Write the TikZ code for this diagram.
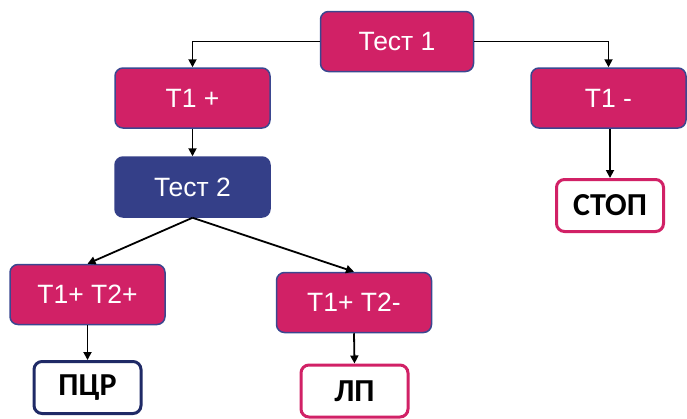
\documentclass[tikz,border=0pt]{standalone}
\usepackage{fontspec}
\setmainfont{Liberation Sans}
\newfontfamily\boldlbl{Carlito}
\usetikzlibrary{arrows.meta}
\definecolor{pinkfill}{HTML}{D12166}
\definecolor{navyedge}{HTML}{3B4790}
\definecolor{navyfill}{HTML}{343F88}
\definecolor{navydark}{HTML}{1F2A66}
\tikzset{
  testbox/.style={draw=navyedge, line width=1.5pt, fill=pinkfill, rounded corners=8pt,
    minimum width=155pt, minimum height=60pt, text=white, font=\fontsize{26.5}{29}\selectfont, inner sep=0pt},
  darkbox/.style={testbox, fill=navyfill, draw=navyfill},
  endbox/.style={draw=#1, line width=3pt, fill=white, rounded corners=8pt,
    minimum width=107pt, minimum height=52pt, text=black, font=\boldlbl\bfseries\fontsize{32}{34}\selectfont, inner sep=0pt},
  conn/.style={line width=1.8pt, -{Triangle[length=8pt,width=8pt]}}
}
\begin{document}
\begin{tikzpicture}[x=1pt,y=-1pt]
\useasboundingbox (0,0) rectangle (687,418);
\node[testbox, minimum width=153pt, minimum height=60pt] (t1) at (397,41.5) {Тест 1};
\node[testbox] (t1p) at (192.5,98) {Т1 +};
\node[testbox] (t1m) at (608.5,98) {Т1 -};
\node[darkbox] (t2) at (192.5,187) {Тест 2};
\node[endbox=pinkfill] (stop) at (610,205.5) {СТОП};
\node[testbox] (pp) at (87.5,294.5) {Т1+ Т2+};
\node[testbox] (pm) at (354,302.5) {Т1+ Т2-};
\node[endbox=navydark] (pcr) at (87.5,387.5) {ПЦР};
\node[endbox=pinkfill] (lp) at (354.5,391) {ЛП};
\draw[conn] (t1.west) -| (t1p.north);
\draw[conn] (t1.east) -| (t1m.north);
\draw[conn] (t1p.south) -- (t2.north);
\draw[conn] (t1m.south -| stop.north) -- (stop.north);
\draw[conn] (t2.south) -- (pp.north);
\draw[conn] (t2.south) -- (pm.north);
\draw[conn] (pp.south) -- (pcr.north);
\draw[conn] (pm.south) -- (lp.north);
\end{tikzpicture}
\end{document}
